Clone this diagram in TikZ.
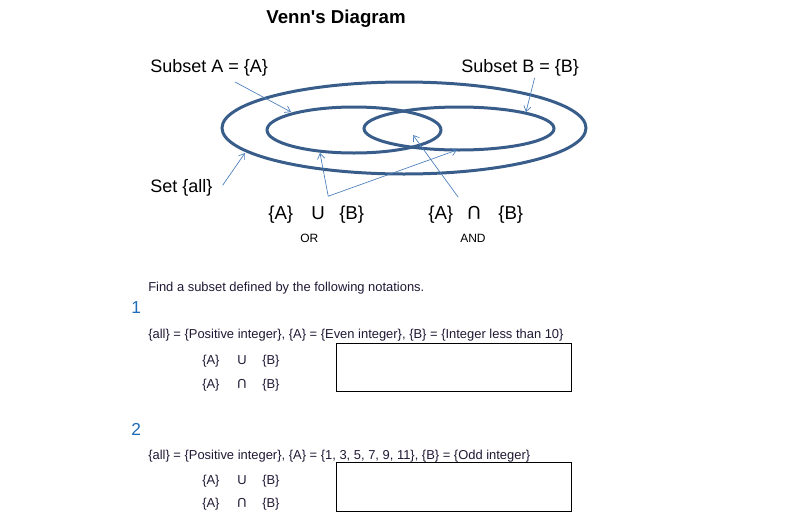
\documentclass[tikz,border=0pt]{standalone}
\usepackage{fontspec}
\setmainfont{Liberation Sans}
\usetikzlibrary{arrows.meta,positioning}
\definecolor{ringblue}{RGB}{56,93,138}
\definecolor{pointerblue}{RGB}{74,126,187}
\definecolor{numblue}{RGB}{31,108,186}
\definecolor{inktext}{RGB}{32,24,52}
\tikzset{
  ring/.style={draw=ringblue, line width=2.25pt},
  pointer/.style={draw=pointerblue, line width=0.5pt, -{Straight Barb[length=4pt,width=5.5pt]}},
  heading/.style={font=\fontsize{14}{16}\selectfont\bfseries, inner sep=0pt, anchor=base},
  biglabel/.style={font=\fontsize{13.5}{16}\selectfont, inner sep=0pt, anchor=base west},
  smalllabel/.style={font=\fontsize{9}{11}\selectfont, inner sep=0pt, anchor=base west},
  bodytext/.style={font=\fontsize{9.7}{11}\selectfont, text=inktext, inner sep=0pt, anchor=base west},
  itemnum/.style={font=\fontsize{13}{15}\selectfont, text=numblue, inner sep=0pt, anchor=base west},
  answerbox/.style={draw=black, line width=0.75pt, minimum width=176.25pt, minimum height=36.5pt, inner sep=0pt}
}
\newcommand{\setop}[3]{\makebox[#1][l]{\{A\}}\makebox[#2][l]{#3}\{B\}}
% the cap sign drawn as high as the U
\newcommand{\capsym}{\rotatebox[origin=c]{180}{U}}

\begin{document}
\begin{tikzpicture}[x=0.75pt, y=-0.75pt]
  \useasboundingbox (0,0) rectangle (799,525);
  % Venn part
  \node[heading] (title) at (336,23) {Venn\textquotesingle s Diagram};
  \draw[ring] (404,128) ellipse [x radius=182, y radius=46];
  \draw[ring] (354,130) ellipse [x radius=87, y radius=23];
  \draw[ring] (459,128.5) ellipse [x radius=95, y radius=21.5];
  \coordinate (tipA) at (291,112);
  \coordinate (tipB) at (526,112);
  \coordinate (tipall) at (245,153);
  \coordinate (tipor1) at (320,153);
  \coordinate (tipor2) at (457,150);
  \coordinate (tipand) at (413,135);

  \node[biglabel] (subA) at (150,72) {Subset A = \{A\}};
  \node[biglabel] (subB) at (461,72) {Subset B = \{B\}};
  \node[biglabel] (setall) at (150,192) {Set \{all\}};
  \node[biglabel, font=\fontsize{14}{16}\selectfont] (union) at (268,219) {\setop{32.25pt}{21pt}{U}};
  \node[biglabel, font=\fontsize{14}{16}\selectfont] (inter) at (428,219) {\setop{29.25pt}{23.25pt}{\capsym}};
  \node[smalllabel] (orlbl) at (300,242) {OR};
  \node[smalllabel] (andlbl) at (460,242) {AND};

  \draw[pointer] ([shift={(26,6)}]subA.south) -- (tipA);
  \draw[pointer] ([shift={(14.5,2)}]subB.south) -- (tipB);
  \draw[pointer] ([shift={(10,-2)}]setall.east) -- (tipall);
  \draw[pointer] ([shift={(12,-9)}]union.north) -- (tipor1);
  \draw[pointer] ([shift={(12,-9)}]union.north) -- (tipor2);
  \draw[pointer] ([shift={(-17.5,-8)}]inter.north) -- (tipand);

  % exercises
  \node[bodytext] (find) at (148,291) {Find a subset defined by the following notations.};
  \node[itemnum] (num1) at (131,313) {1};
  \node[bodytext] (given1) at (148,338) {\{all\} = \{Positive integer\}, \{A\} = \{Even integer\}, \{B\} = \{Integer less than 10\}};
  \node[bodytext] (cup1) at (202,364) {\setop{26.25pt}{18.75pt}{U}};
  \node[bodytext] (cap1) at (202,388) {\setop{26.25pt}{18.75pt}{\capsym}};
  \node[answerbox] (ans1) at (453.5,367.5) {};

  \node[itemnum] (num2) at (131,435) {2};
  \node[bodytext] (given2) at (148,459) {\{all\} = \{Positive integer\}, \{A\} = \{1, 3, 5, 7, 9, 11\}, \{B\} = \{Odd integer\}};
  \node[bodytext] (cup2) at (202,484) {\setop{26.25pt}{18.75pt}{U}};
  \node[bodytext] (cap2) at (202,507) {\setop{26.25pt}{18.75pt}{\capsym}};
  \node[answerbox] (ans2) at (453.5,487) {};
\end{tikzpicture}
\end{document}
